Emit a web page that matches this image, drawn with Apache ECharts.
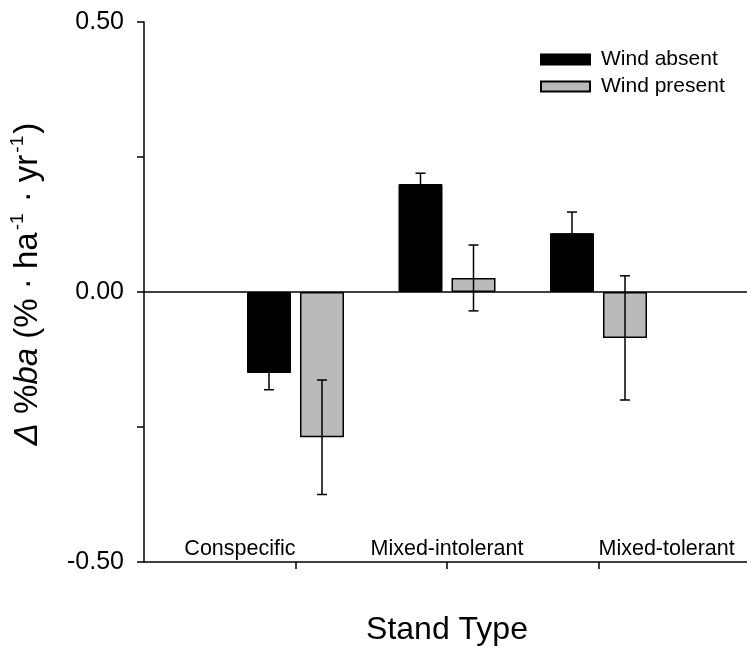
<!DOCTYPE html>
<html><head><meta charset="utf-8">
<script src="https://cdn.jsdelivr.net/npm/echarts@6/dist/echarts.min.js"></script>
<style>html,body{margin:0;padding:0;background:#fff}#c{width:747px;height:651px}</style>
</head><body><div id="c"></div>
<script>
// ---- data ----
const categories = ['Conspecific', 'Mixed-intolerant', 'Mixed-tolerant'];
const seriesNames = ['Wind absent', 'Wind present'];
const windAbsent = [-0.150, 0.200, 0.109];
const windAbsentErr = [0.031, 0.020, 0.039];
const windPresent = [-0.269, 0.026, -0.085];
const windPresentErr = [0.106, 0.061, 0.115];
const yTickLabels = { '-0.5': '-0.50', '0': '0.00', '0.5': '0.50' };
const categoryLabelAlign = ['right', 'center', 'left'];

// ---- style ----
const FONT = 'Arial, "Liberation Sans", sans-serif';
const BAR_W = 44, BAR_GAP_PX = 9;
const OFFSET = (BAR_W + BAR_GAP_PX) / 2;

const xPos = categories.map((c, i) => i + 1);

function errData(vals, errs) {
  return vals.map((v, i) => [xPos[i], v - errs[i], v + errs[i]]);
}
function errSeries(vals, errs, off) {
  return {
    type: 'custom',
    data: errData(vals, errs),
    encode: { x: 0, y: [1, 2] },
    z: 5, silent: true, clip: false,
    renderItem: function (params, api) {
      const x = api.value(0);
      const lo = api.coord([x, api.value(1)]);
      const hi = api.coord([x, api.value(2)]);
      const cx = lo[0] + off;
      const cap = 5;
      const st = { stroke: '#000', lineWidth: 1.5 };
      return {
        type: 'group',
        children: [
          { type: 'line', shape: { x1: cx, y1: lo[1], x2: cx, y2: hi[1] }, style: st },
          { type: 'line', shape: { x1: cx - cap, y1: lo[1], x2: cx + cap, y2: lo[1] }, style: st },
          { type: 'line', shape: { x1: cx - cap, y1: hi[1], x2: cx + cap, y2: hi[1] }, style: st }
        ]
      };
    }
  };
}

const chart = echarts.init(document.getElementById('c'), null, { renderer: 'canvas' });
chart.setOption({
  animation: false,
  backgroundColor: '#fff',
  textStyle: { fontFamily: FONT, color: '#000' },
  grid: { left: 144, top: 22, width: 606, height: 540, containLabel: false, outerBoundsMode: 'none' },
  legend: {
    data: seriesNames, left: 540, top: 49, orient: 'vertical',
    itemWidth: 49, itemHeight: 10, itemGap: 6, padding: 0, icon: 'rect',
    textStyle: { fontSize: 21, fontFamily: FONT, color: '#000', padding: [0, 0, 0, 6] }
  },
  xAxis: {
    type: 'value', min: 0, max: 4, interval: 1,
    name: 'Stand Type', nameLocation: 'middle', nameGap: 52,
    nameTextStyle: { fontSize: 32, fontFamily: FONT, color: '#000' },
    axisLine: { onZero: false, lineStyle: { color: '#000', width: 1.5 } },
    axisTick: { show: true, length: 7, customValues: [1, 2, 3], lineStyle: { color: '#000', width: 1.5 } },
    axisLabel: { show: false },
    splitLine: { show: false }
  },
  yAxis: {
    type: 'value', min: -0.5, max: 0.5, interval: 0.25,
    name: '{d|Δ} %{i|ba} (% · ha{s|-1} · yr{s|-1})',
    nameLocation: 'middle', nameGap: 96, nameRotate: 90,
    nameTextStyle: {
      fontSize: 33, fontFamily: FONT, color: '#000', lineHeight: 40,
      padding: [0, 0, 0, 16],
      rich: {
        d: { fontSize: 33, fontStyle: 'italic', fontFamily: FONT, lineHeight: 40 },
        i: { fontSize: 33, fontStyle: 'italic', fontFamily: FONT, lineHeight: 40 },
        s: { fontSize: 19, fontFamily: FONT, verticalAlign: 'top', lineHeight: 40, padding: [0, 2, 0, 2] }
      }
    },
    axisLine: { onZero: false, lineStyle: { color: '#000', width: 1.5 } },
    axisTick: { show: true, length: 7, lineStyle: { color: '#000', width: 1.5 } },
    axisLabel: {
      fontSize: 25, fontFamily: FONT, color: '#000', margin: 20,
      formatter: v => yTickLabels[String(v)] || ''
    },
    splitLine: { show: false }
  },
  series: [
    {
      name: seriesNames[0], type: 'bar', barWidth: BAR_W,
      barGap: (BAR_GAP_PX / BAR_W * 100) + '%',
      data: windAbsent.map((v, i) => [xPos[i], v]),
      itemStyle: { color: '#000', borderColor: '#000', borderWidth: 1 },
      markLine: {
        silent: true, symbol: 'none', label: { show: false },
        lineStyle: { color: '#000', width: 1.5, type: 'solid' },
        data: [{ yAxis: 0 }]
      }
    },
    {
      name: seriesNames[1], type: 'bar', barWidth: BAR_W,
      data: windPresent.map((v, i) => [xPos[i], v]),
      itemStyle: { color: '#bababa', borderColor: '#000', borderWidth: 1.5 }
    },
    errSeries(windAbsent, windAbsentErr, -OFFSET),
    errSeries(windPresent, windPresentErr, OFFSET),
    {
      type: 'scatter', symbolSize: 0, silent: true, z: 6,
      itemStyle: { opacity: 1 },
      data: categories.map((c, i) => ({
        value: [xPos[i], -0.5],
        label: { align: categoryLabelAlign[i] }
      })),
      label: {
        show: true, position: 'top', distance: 2,
        fontSize: 21.5, fontFamily: FONT, color: '#000',
        formatter: p => categories[p.dataIndex]
      }
    }
  ]
});
</script>
</body></html>
